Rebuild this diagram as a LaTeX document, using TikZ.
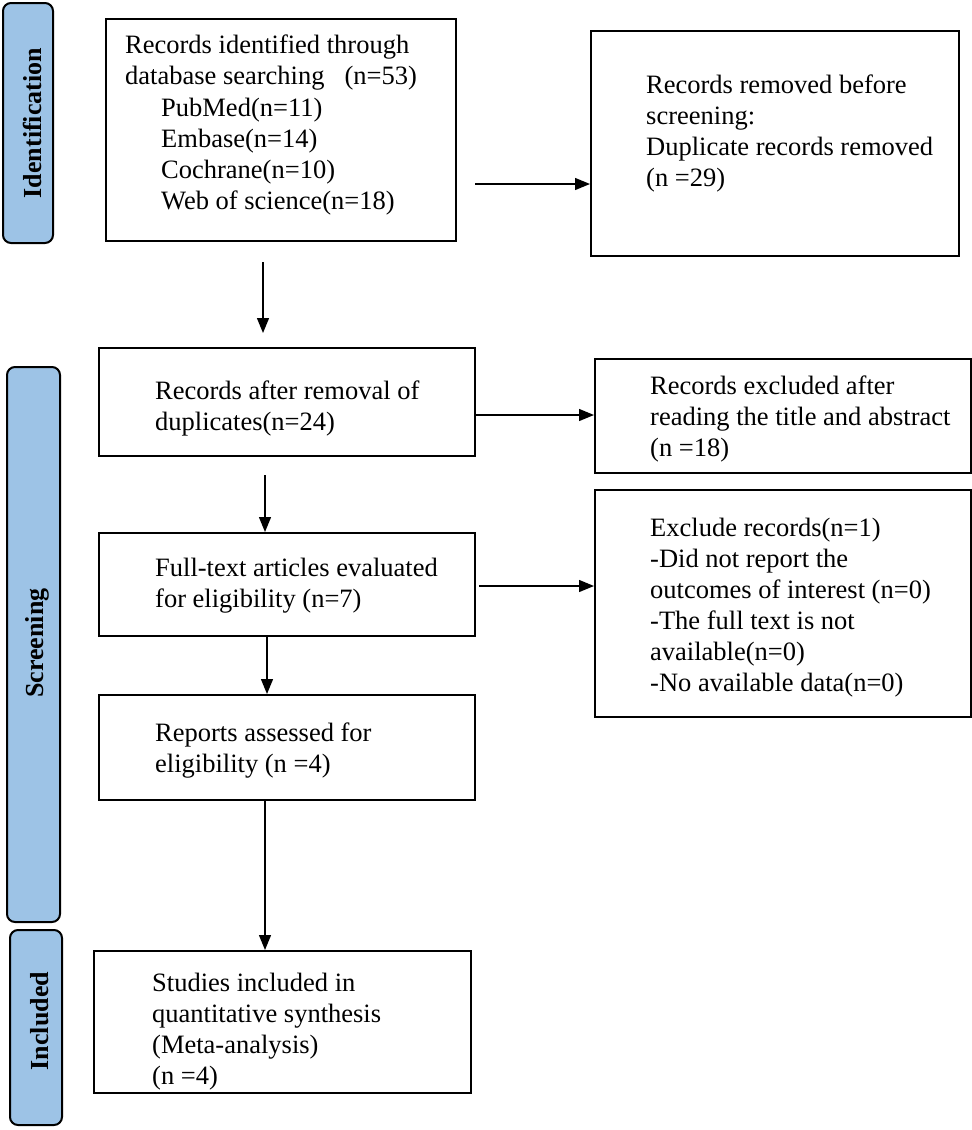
\documentclass[tikz,border=0pt]{standalone}
\usepackage{fontspec}
\setmainfont{Liberation Serif}
\usetikzlibrary{arrows.meta}
\definecolor{sideblue}{HTML}{9DC3E6}
\begin{document}
\begin{tikzpicture}[x=1pt,y=-1pt,
  box/.style={draw,line width=1.8pt,inner sep=0,anchor=north west},
  side/.style={draw,line width=2pt,rounded corners=8pt,fill=sideblue,inner sep=0},
  txt/.style={font=\fontsize{26.5}{31}\selectfont,align=left,anchor=north west,inner sep=0},
  sidetxt/.style={font=\fontsize{26}{30}\selectfont\bfseries,rotate=90,inner sep=0},
  arr/.style={line width=1.3pt,-{Triangle[length=15pt,width=12pt]}}]
\useasboundingbox (0,0) rectangle (972,1130);
% side labels
\node[side,minimum width=50pt,minimum height=240pt] (s1) at (28,123) {};
\node[sidetxt] (s1t) at (32,123) {Identification};
\node[side,minimum width=53pt,minimum height=555pt] (s2) at (33.5,644.5) {};
\node[sidetxt] (s2t) at (37,643) {Screening};
\node[side,minimum width=52pt,minimum height=195pt] (s3) at (36,1027.5) {};
\node[sidetxt] (s3t) at (40,1021) {Included};
% boxes
\node[box,minimum width=350pt,minimum height=222pt] (b1) at (105,18) {};
\node[box,minimum width=368pt,minimum height=225pt] (b2) at (590,30) {};
\node[box,minimum width=376pt,minimum height=108pt] (b3) at (98,347) {};
\node[box,minimum width=376pt,minimum height=114pt] (b4) at (594,358) {};
\node[box,minimum width=376pt,minimum height=103pt] (b5) at (98,532) {};
\node[box,minimum width=376pt,minimum height=227pt] (b6) at (594,489) {};
\node[box,minimum width=376pt,minimum height=105pt] (b7) at (98,694) {};
\node[box,minimum width=377pt,minimum height=142pt] (b8) at (93,950) {};
% texts
\node[txt] (b1ta) at (125,35) {Records identified through\\database searching\hspace{20pt}(n=53)};
\node[txt] (b1tb) at (161,98) {PubMed(n=11)\\Embase(n=14)\\Cochrane(n=10)\\Web of science(n=18)};
\node[txt] (b2t) at (646,75) {Records removed before\\screening:\\Duplicate records removed\\(n =29)};
\node[txt] (b3t) at (155,381) {Records after removal of\\duplicates(n=24)};
\node[txt] (b4t) at (650,376) {Records excluded after\\reading the title and abstract\\(n =18)};
\node[txt] (b5t) at (155,558) {Full-text articles evaluated\\for eligibility (n=7)};
\node[txt] (b6t) at (650,518) {Exclude records(n=1)\\-Did not report the\\outcomes of interest (n=0)\\-The full text is not\\available(n=0)\\-No available data(n=0)};
\node[txt] (b7t) at (155,723) {Reports assessed for\\eligibility (n =4)};
\node[txt] (b8t) at (152,973) {Studies included in\\quantitative synthesis\\(Meta-analysis)\\(n =4)};
% connectors
\coordinate (c1) at (475,184);
\coordinate (c2) at (263,262);
\coordinate (c2e) at (263,333);
\coordinate (c3) at (475,415);
\coordinate (c4) at (265,475);
\coordinate (c5) at (479,586);
\coordinate (c6) at (267,637);
\coordinate (c7) at (265,801);
\draw[arr] (c1) -- (c1 -| b2.west);
\draw[arr] (c2) -- (c2e);
\draw[arr] (c3) -- (c3 -| b4.west);
\draw[arr] (c4) -- (c4 |- b5.north);
\draw[arr] (c5) -- (c5 -| b6.west);
\draw[arr] (c6) -- (c6 |- b7.north);
\draw[arr] (c7) -- (c7 |- b8.north);
\end{tikzpicture}
\end{document}
